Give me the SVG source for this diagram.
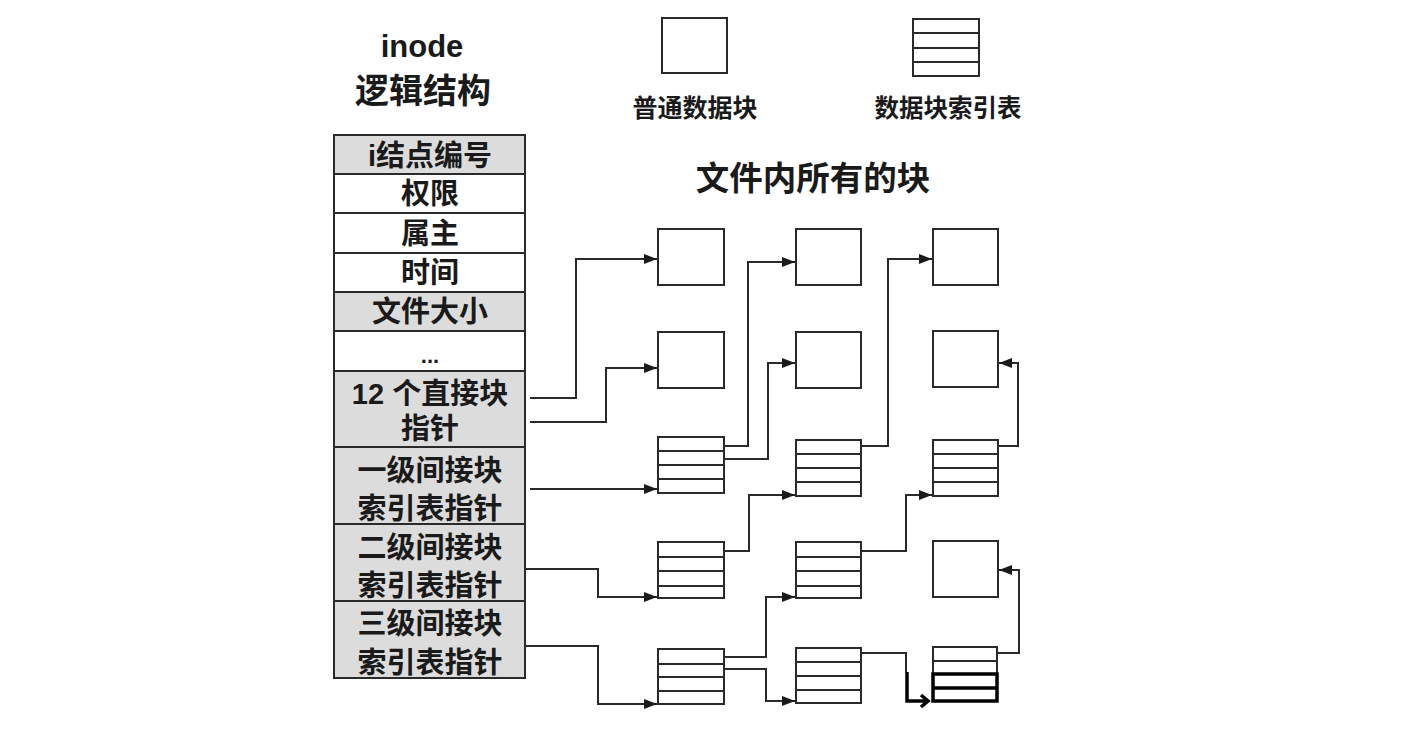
<svg xmlns="http://www.w3.org/2000/svg" width="1405" height="755" viewBox="0 0 1405 755">
<style>
.t{font-family:"Liberation Sans","Noto Sans CJK SC",sans-serif;font-weight:bold;fill:#1a1a1a;text-anchor:middle}
.cell{stroke:#2a2a2a;stroke-width:2}
.g{fill:#dcdcdc}
.w{fill:#ffffff}
.box{fill:#fff;stroke:#2a2a2a;stroke-width:2}
.ln{stroke:#2a2a2a;stroke-width:2}
.c{fill:none;stroke:#2a2a2a;stroke-width:2}
.bold{fill:none;stroke:#000;stroke-width:3.5}
</style>
<defs>
<marker id="ar" markerUnits="userSpaceOnUse" markerWidth="14" markerHeight="11" refX="13" refY="5" orient="auto">
<path d="M0,0 L13,5 L0,10 z" fill="#1a1a1a"/>
</marker>
</defs>
<rect width="1405" height="755" fill="#fff"/>

<g id="titles">
<text class="t" x="422" y="57" font-size="31">inode</text>
<text class="t" x="423" y="103" font-size="34">逻辑结构</text>
<text class="t" x="695" y="117" font-size="25">普通数据块</text>
<text class="t" x="948" y="117" font-size="24.5">数据块索引表</text>
<text class="t" x="813" y="190" font-size="33.5">文件内所有的块</text>
</g>

<g id="legend-plain"><rect class="box" x="662" y="18" width="65" height="55"/></g>
<g id="legend-index">
<rect class="box" x="913" y="19" width="66" height="57"/>
<line class="ln" x1="913" y1="33" x2="979" y2="33"/>
<line class="ln" x1="913" y1="48" x2="979" y2="48"/>
<line class="ln" x1="913" y1="62" x2="979" y2="62"/>
</g>

<g id="inode-table">
<rect class="cell g" x="334" y="135" width="191" height="39"/>
<rect class="cell w" x="334" y="174" width="191" height="39"/>
<rect class="cell w" x="334" y="213" width="191" height="40"/>
<rect class="cell w" x="334" y="253" width="191" height="39"/>
<rect class="cell g" x="334" y="292" width="191" height="39"/>
<rect class="cell w" x="334" y="331" width="191" height="40"/>
<rect class="cell g" x="334" y="371" width="191" height="76"/>
<rect class="cell g" x="334" y="447" width="191" height="77"/>
<rect class="cell g" x="334" y="524" width="191" height="77"/>
<rect class="cell g" x="334" y="601" width="191" height="77"/>
<text class="t" x="430" y="166" font-size="29">i结点编号</text>
<text class="t" x="430" y="204" font-size="29">权限</text>
<text class="t" x="430" y="244" font-size="29">属主</text>
<text class="t" x="430" y="283" font-size="29">时间</text>
<text class="t" x="430" y="322" font-size="29">文件大小</text>
<text class="t" x="430" y="363" font-size="22">...</text>
<text class="t" x="430" y="404" font-size="29">12 个直接块</text>
<text class="t" x="430" y="439" font-size="29">指针</text>
<text class="t" x="430" y="481" font-size="29">一级间接块</text>
<text class="t" x="430" y="519" font-size="29">索引表指针</text>
<text class="t" x="430" y="558" font-size="29">二级间接块</text>
<text class="t" x="430" y="596" font-size="29">索引表指针</text>
<text class="t" x="430" y="634" font-size="29">三级间接块</text>
<text class="t" x="430" y="673" font-size="29">索引表指针</text>
</g>

<g id="b-c1-r1"><rect class="box" x="658" y="229" width="66" height="56"/></g>
<g id="b-c1-r2"><rect class="box" x="658" y="332" width="66" height="56"/></g>
<g id="i-c1-r3"><rect class="box" x="658" y="437" width="66" height="56"/>
<line class="ln" x1="658" y1="451" x2="724" y2="451"/><line class="ln" x1="658" y1="465" x2="724" y2="465"/><line class="ln" x1="658" y1="479" x2="724" y2="479"/></g>
<g id="i-c1-r4"><rect class="box" x="658" y="542" width="66" height="56"/>
<line class="ln" x1="658" y1="557" x2="724" y2="557"/><line class="ln" x1="658" y1="571" x2="724" y2="571"/><line class="ln" x1="658" y1="586" x2="724" y2="586"/></g>
<g id="i-c1-r5"><rect class="box" x="658" y="649" width="66" height="55"/>
<line class="ln" x1="658" y1="664" x2="724" y2="664"/><line class="ln" x1="658" y1="677" x2="724" y2="677"/><line class="ln" x1="658" y1="691" x2="724" y2="691"/></g>

<g id="b-c2-r1"><rect class="box" x="796" y="229" width="65" height="56"/></g>
<g id="b-c2-r2"><rect class="box" x="796" y="332" width="65" height="56"/></g>
<g id="i-c2-r3"><rect class="box" x="796" y="440" width="65" height="56"/>
<line class="ln" x1="796" y1="454" x2="861" y2="454"/><line class="ln" x1="796" y1="468" x2="861" y2="468"/><line class="ln" x1="796" y1="482" x2="861" y2="482"/></g>
<g id="i-c2-r4"><rect class="box" x="796" y="542" width="65" height="56"/>
<line class="ln" x1="796" y1="557" x2="861" y2="557"/><line class="ln" x1="796" y1="571" x2="861" y2="571"/><line class="ln" x1="796" y1="586" x2="861" y2="586"/></g>
<g id="i-c2-r5"><rect class="box" x="796" y="648" width="65" height="55"/>
<line class="ln" x1="796" y1="662" x2="861" y2="662"/><line class="ln" x1="796" y1="676" x2="861" y2="676"/><line class="ln" x1="796" y1="690" x2="861" y2="690"/></g>

<g id="b-c3-r1"><rect class="box" x="933" y="229" width="65" height="56"/></g>
<g id="b-c3-r2"><rect class="box" x="933" y="331" width="65" height="56"/></g>
<g id="i-c3-r3"><rect class="box" x="933" y="440" width="65" height="56"/>
<line class="ln" x1="933" y1="454" x2="998" y2="454"/><line class="ln" x1="933" y1="468" x2="998" y2="468"/><line class="ln" x1="933" y1="482" x2="998" y2="482"/></g>
<g id="b-c3-r4"><rect class="box" x="933" y="541" width="65" height="56"/></g>
<g id="i-c3-r5">
<path class="c" d="M933,673 V647 H997 V673"/>
<line class="ln" x1="933" y1="661" x2="997" y2="661"/>
<rect class="bold" x="933" y="674" width="64" height="27"/>
<line class="bold" x1="933" y1="688" x2="997" y2="688"/>
</g>

<g id="connectors">
<polyline class="c" marker-end="url(#ar)" points="530,398 576,398 576,259 657,259"/>
<polyline class="c" marker-end="url(#ar)" points="530,422 606,422 606,368 657,368"/>
<polyline class="c" marker-end="url(#ar)" points="530,489 657,489"/>
<polyline class="c" marker-end="url(#ar)" points="526,569 598,569 598,597 657,597"/>
<polyline class="c" marker-end="url(#ar)" points="526,646 598,646 598,704 657,704"/>
<polyline class="c" marker-end="url(#ar)" points="724,446 748,446 748,262 795,262"/>
<polyline class="c" marker-end="url(#ar)" points="724,459 768,459 768,363 795,363"/>
<polyline class="c" marker-end="url(#ar)" points="724,551 749,551 749,495 795,495"/>
<polyline class="c" marker-end="url(#ar)" points="724,657 766,657 766,597 795,597"/>
<polyline class="c" marker-end="url(#ar)" points="724,669 766,669 766,701 795,701"/>
<polyline class="c" marker-end="url(#ar)" points="861,446 888,446 888,259 932,259"/>
<polyline class="c" marker-end="url(#ar)" points="861,551 906,551 906,495 932,495"/>
<polyline class="c" marker-end="url(#ar)" points="998,446 1018,446 1018,363 999,363"/>
<polyline class="c" marker-end="url(#ar)" points="998,653 1019,653 1019,570 999,570"/>
<polyline class="c" points="861,653 906,653 906,673"/>
<polyline class="bold" points="907,672 907,701 927,701"/>
<polyline class="bold" points="921,695 928,701 921,707"/>
</g>
</svg>
